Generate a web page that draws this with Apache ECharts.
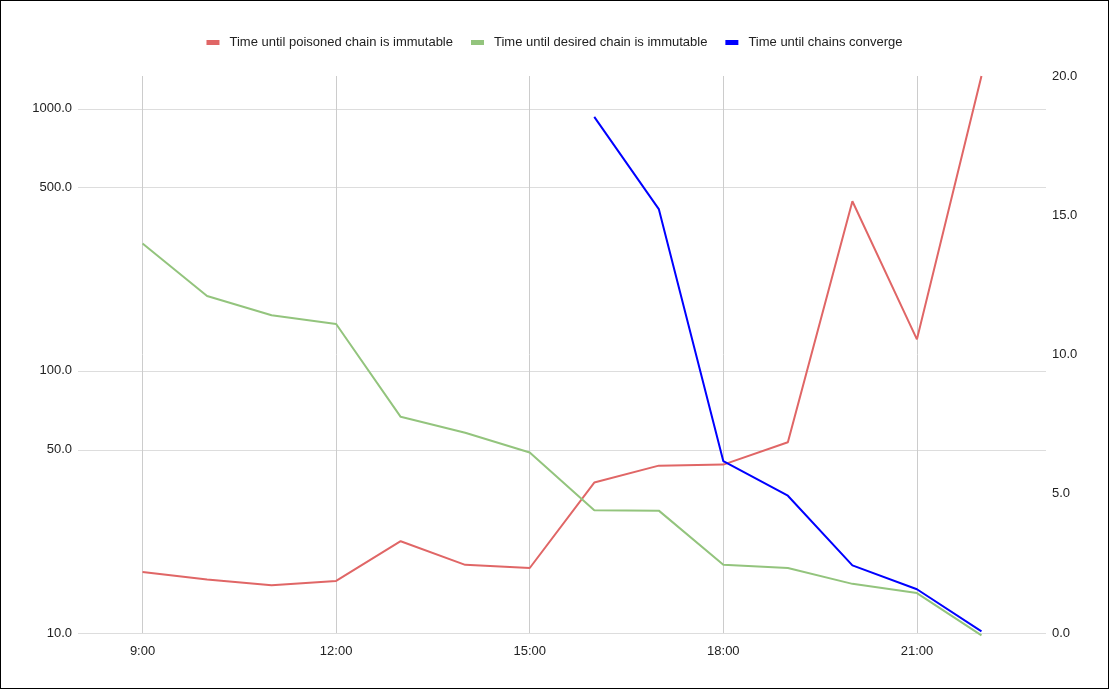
<!DOCTYPE html>
<html><head><meta charset="utf-8">
<script src="https://cdn.jsdelivr.net/npm/echarts@6/dist/echarts.min.js"></script>
<style>html,body{margin:0;padding:0;background:#fff}#c{width:1109px;height:689px;box-sizing:border-box;border:1px solid #000}</style>
</head><body><div id="c"></div>
<script>
const hours = [9,10,11,12,13,14,15,16,17,18,19,20,21,22];
const poisoned = [17.1,16.0,15.2,15.8,22.4,18.2,17.7,37.5,43.5,43.9,53.4,444,132,1334];
const desired = [306,193,163,151,66.8,58.1,48.8,29.4,29.3,18.2,17.7,15.4,14.2,9.8];
const converge = [null,null,null,null,null,null,null,18.53,15.22,6.17,4.93,2.43,1.57,0.06];
const xTicks = [9,12,15,18,21];
const leftTicks = [10,50,100,500,1000];
const names = ['Time until poisoned chain is immutable','Time until desired chain is immutable','Time until chains converge'];
const font = 'Arial, "Liberation Sans", sans-serif';
const pair = arr => hours.map((h,i)=>[h,arr[i]]);
const chart = echarts.init(document.getElementById('c'));
chart.setOption({
  animation:false,
  legend:{top:30,left:'center',icon:'rect',itemWidth:13,itemHeight:5,itemGap:18,
    textStyle:{fontFamily:font,fontSize:13,color:'#222',padding:[0,0,0,5]},data:names},
  grid:{left:77,right:62,top:75,bottom:55,containLabel:false},
  xAxis:{type:'value',min:8,max:23,
    axisLine:{show:false},axisTick:{show:false,customValues:xTicks},
    axisLabel:{customValues:xTicks,formatter:v=>v+':00',fontFamily:font,fontSize:13,color:'#222',margin:12},
    splitLine:{show:true,lineStyle:{color:'#cccccc',width:1}}},
  yAxis:[
    {type:'log',logBase:10,min:10,max:1334,position:'left',
     axisLine:{show:false},axisTick:{show:false,customValues:leftTicks},
     axisLabel:{customValues:leftTicks,formatter:v=>Number(v).toFixed(1),fontFamily:font,fontSize:13,color:'#222',margin:6},
     splitLine:{show:true,lineStyle:{color:'#dddddd',width:1}}},
    {type:'value',min:0,max:20,interval:5,position:'right',
     axisLine:{show:false},axisTick:{show:false},
     axisLabel:{formatter:v=>v.toFixed(1),fontFamily:font,fontSize:13,color:'#222',margin:6},
     splitLine:{show:false}}
  ],
  series:[
    {name:names[0],type:'line',yAxisIndex:0,data:pair(poisoned),showSymbol:false,symbol:'none',color:'#e06666',lineStyle:{width:2,color:'#e06666'},clip:false},
    {name:names[1],type:'line',yAxisIndex:0,data:pair(desired),showSymbol:false,symbol:'none',color:'#93c47d',lineStyle:{width:2,color:'#93c47d'},clip:false},
    {name:names[2],type:'line',yAxisIndex:1,data:pair(converge),showSymbol:false,symbol:'none',color:'#0000ff',lineStyle:{width:2,color:'#0000ff'},clip:false,connectNulls:false}
  ]
});
</script></body></html>
